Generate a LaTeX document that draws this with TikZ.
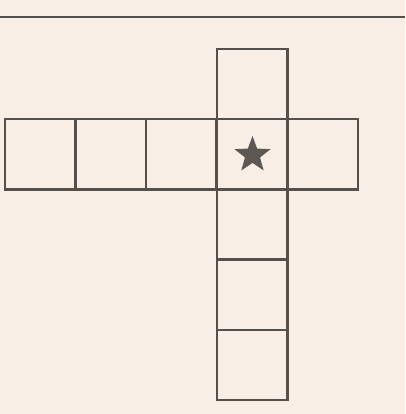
\documentclass[tikz,border=0pt]{standalone}
\usetikzlibrary{shapes.geometric}
\definecolor{paper}{HTML}{F8EEE6}
\definecolor{ink}{HTML}{56504C}
\definecolor{starink}{HTML}{5E5855}
\begin{document}
\begin{tikzpicture}[x=1pt,y=-1pt,
  cell/.style={draw=ink, line width=2.3pt, minimum width=70.4pt, minimum height=70.2pt, inner sep=0pt, outer sep=0pt, anchor=north west},
  starmark/.style={star, star points=5, star point ratio=2.4, fill=starink, draw=none, minimum size=38pt, inner sep=0pt}]
\fill[paper] (0,0) rectangle (405,414);
\useasboundingbox (0,0) rectangle (405,414);
\draw[ink, line width=2pt] (0,17) -- (405,17);
% vertical column
\node[cell] (v1) at (217,49) {};
\node[cell] (v3) at (217,189.4) {};
\node[cell] (v4) at (217,259.6) {};
\node[cell] (v5) at (217,329.8) {};
% horizontal row
\node[cell] (h1) at (5,119.2) {};
\node[cell] (h2) at (75.4,119.2) {};
\node[cell] (h3) at (145.8,119.2) {};
\node[cell] (h4) at (217,119.2) {};
\node[cell] (h5) at (287.4,119.2) {};
\node[starmark] (s) at (252.5,155) {};
\end{tikzpicture}
\end{document}
